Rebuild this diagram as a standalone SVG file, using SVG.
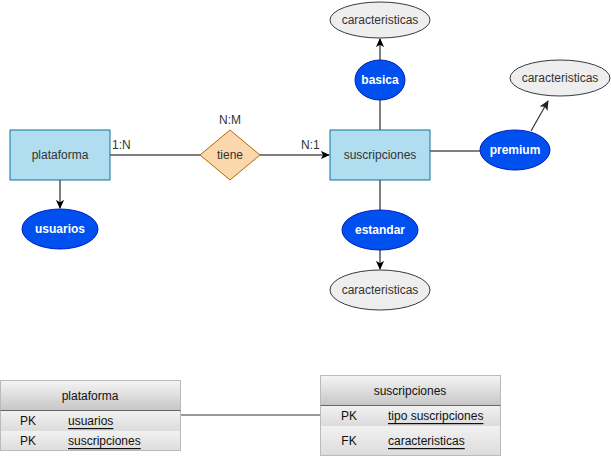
<svg xmlns="http://www.w3.org/2000/svg" width="611" height="456" viewBox="0 0 611 456">
<defs>
<marker id="arr" viewBox="0 0 10 10" refX="9" refY="5" markerWidth="9" markerHeight="9" orient="auto" markerUnits="userSpaceOnUse">
<path d="M0,0.5 L10,5 L0,9.5 L2.5,5 Z" fill="#000"/>
</marker>
<marker id="arrg" viewBox="0 0 10 10" refX="9" refY="5" markerWidth="10" markerHeight="10" orient="auto" markerUnits="userSpaceOnUse">
<path d="M0,0.5 L10,5 L0,9.5 L2.5,5 Z" fill="#222"/>
</marker>
<linearGradient id="hdr" x1="0" y1="0" x2="0" y2="1">
<stop offset="0" stop-color="#f5f5f5"/>
<stop offset="1" stop-color="#c6c6c6"/>
</linearGradient>
<linearGradient id="row" x1="0" y1="0" x2="0" y2="1">
<stop offset="0" stop-color="#f2f2f2"/>
<stop offset="1" stop-color="#dcdcdc"/>
</linearGradient>
</defs>
<style>
text{font-family:"Liberation Sans",Arial,sans-serif;font-size:12px;fill:#333;}
.ent{fill:#b1ddf0;stroke:#10739e;stroke-width:1;}
.rel{fill:#fad7ac;stroke:#b46504;stroke-width:1;}
.blue{fill:#0050ef;stroke:#001dbc;stroke-width:1;}
.gray{fill:#eeeeee;stroke:#36393d;stroke-width:1;}
.wt{fill:#fff;font-weight:bold;}
.c{text-anchor:middle;dominant-baseline:central;}
.ln{stroke:#000;stroke-width:1;fill:none;}
.tb{stroke:#666;stroke-width:1;}
.u{text-decoration:underline;}
.tt{fill:#111;}
</style>
<g id="connectors">
<line class="ln" x1="110" y1="155" x2="200" y2="155"/>
<line class="ln" x1="260" y1="155" x2="329" y2="155" marker-end="url(#arr)"/>
<line class="ln" x1="60" y1="180" x2="60" y2="208" marker-end="url(#arr)"/>
<line class="ln" x1="380" y1="130" x2="380" y2="100"/>
<line class="ln" x1="380" y1="60" x2="380" y2="39" marker-end="url(#arr)"/>
<line class="ln" x1="430" y1="151" x2="480" y2="151"/>
<line x1="531" y1="131" x2="548" y2="101" stroke="#333" stroke-width="1.2" marker-end="url(#arrg)"/>
<line class="ln" x1="380" y1="180" x2="380" y2="210"/>
<line class="ln" x1="380" y1="250" x2="380" y2="269" marker-end="url(#arr)"/>
<line x1="181" y1="415" x2="320" y2="415" stroke="#333" stroke-width="1"/>
<text x="112" y="149">1:N</text>
<text x="301" y="149">N:1</text>
<text x="230" y="120" class="c">N:M</text>
</g>
<g id="plataforma">
<rect class="ent" x="10" y="130" width="100" height="50"/>
<text x="60" y="155" class="c">plataforma</text>
</g>
<g id="usuarios">
<ellipse class="blue" cx="60" cy="229" rx="38" ry="20"/>
<text x="60" y="229" class="c wt">usuarios</text>
</g>
<g id="tiene">
<polygon class="rel" points="230,130 260,155 230,180 200,155"/>
<text x="230" y="155" class="c">tiene</text>
</g>
<g id="suscripciones">
<rect class="ent" x="330" y="130" width="100" height="50"/>
<text x="380" y="155" class="c">suscripciones</text>
</g>
<g id="basica">
<ellipse class="blue" cx="380" cy="80" rx="25" ry="20"/>
<text x="380" y="80" class="c wt">basica</text>
</g>
<g id="caract-top">
<ellipse class="gray" cx="380" cy="20" rx="50" ry="18"/>
<text x="380" y="20" class="c">caracteristicas</text>
</g>
<g id="premium">
<ellipse class="blue" cx="515" cy="150" rx="35" ry="20"/>
<text x="515" y="150" class="c wt">premium</text>
</g>
<g id="caract-right">
<ellipse class="gray" cx="560" cy="78" rx="50" ry="18"/>
<text x="560" y="78" class="c">caracteristicas</text>
</g>
<g id="estandar">
<ellipse class="blue" cx="380" cy="230" rx="38" ry="20"/>
<text x="380" y="230" class="c wt">estandar</text>
</g>
<g id="caract-bottom">
<ellipse class="gray" cx="380" cy="290" rx="50" ry="20"/>
<text x="380" y="290" class="c">caracteristicas</text>
</g>
<g id="table-plataforma">
<rect class="tb" x="0.5" y="380.5" width="180" height="30" fill="url(#hdr)"/>
<rect x="0.5" y="410.5" width="180" height="20" fill="url(#row)" stroke="#ddd"/>
<rect x="0.5" y="430.5" width="180" height="20" fill="url(#row)" stroke="#ddd"/>
<rect x="0.5" y="380.5" width="180" height="70" fill="none" stroke="#bbb"/>
<line x1="0.5" y1="410.5" x2="180.5" y2="410.5" stroke="#666"/>
<text x="90" y="396" class="c tt">plataforma</text>
<text x="28" y="421" class="c tt">PK</text>
<text x="68" y="421" dominant-baseline="central" class="u tt">usuarios</text>
<text x="28" y="441" class="c tt">PK</text>
<text x="68" y="441" dominant-baseline="central" class="u tt">suscripciones</text>
</g>
<g id="table-suscripciones">
<rect class="tb" x="320.5" y="375.5" width="180" height="30" fill="url(#hdr)"/>
<rect x="320.5" y="405.5" width="180" height="20" fill="url(#row)" stroke="#ddd"/>
<rect x="320.5" y="425.5" width="180" height="30" fill="url(#row)" stroke="#ddd"/>
<rect x="320.5" y="375.5" width="180" height="80" fill="none" stroke="#bbb"/>
<line x1="320.5" y1="405.5" x2="500.5" y2="405.5" stroke="#666"/>
<text x="410" y="391" class="c tt">suscripciones</text>
<text x="349" y="416" class="c tt">PK</text>
<text x="388" y="416" dominant-baseline="central" class="u tt">tipo suscripciones</text>
<text x="349" y="441" class="c tt">FK</text>
<text x="388" y="441" dominant-baseline="central" class="u tt">caracteristicas</text>
</g>
</svg>
